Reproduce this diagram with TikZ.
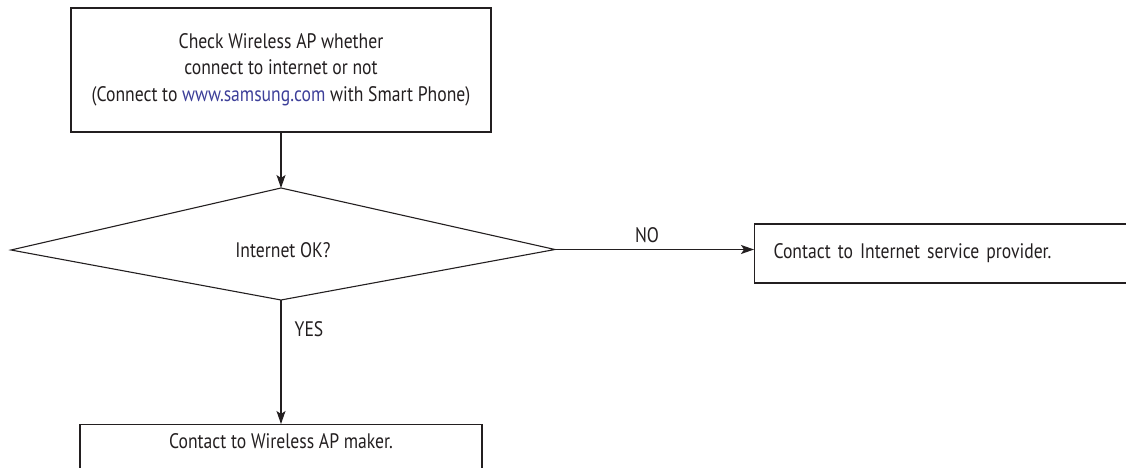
\documentclass[tikz,border=0pt]{standalone}
\usepackage{fontspec}
\setmainfont{PT Sans}[FakeStretch=0.84]
\usetikzlibrary{arrows.meta}
\definecolor{FlowLine}{HTML}{231F20}
\definecolor{FlowText}{HTML}{231F20}
\definecolor{FlowLink}{HTML}{3D3F99}

\begin{document}
\begin{tikzpicture}[x=1pt,y=-1pt,
    flowbox/.style={draw=FlowLine,line width=1.1pt,text=FlowText,font=\fontsize{21}{26}\selectfont},
    flowarrow/.style={draw=FlowLine,line width=1.1pt,-{Stealth[length=13pt,width=9pt,inset=3pt]}},
    flowlabel/.style={text=FlowText,font=\fontsize{21}{26}\selectfont}]
  \path[use as bounding box,clip] (0,0) rectangle (1126,468);
  \node[flowbox,align=center,minimum width=420pt,minimum height=124pt] (check) at (281,70)
    {Check Wireless AP whether\\connect to internet or not\\[1.5pt](Connect to \textcolor{FlowLink}{www.samsung.com} with Smart Phone)};
  % decision, drawn as a polygon (lower half is flatter)
  \coordinate (dtop) at (281,188);
  \coordinate (dleft) at (11,250);
  \coordinate (dright) at (555,249.5);
  \coordinate (dbot) at (281,300);
  \draw[FlowLine,line width=1.1pt] (dleft) -- (dtop) -- (dright) -- (dbot) -- cycle;
  \node[flowlabel] (ok) at (283,250) {Internet OK?};
  \node[flowbox,anchor=west,align=left,text width=380pt,inner xsep=19pt,minimum height=59pt] (isp) at (754,253.5)
    {Contact to Internet service provider.};
  \node[flowbox,anchor=north,align=center,minimum width=402pt,inner ysep=9pt,text height=15pt,text depth=40pt] (maker) at (281,424)
    {Contact to Wireless AP maker.};
  \draw[flowarrow] (check) -- (dtop);
  \draw[flowarrow] (dright) -- (dright -| isp.west);
  \draw[flowarrow] (dbot) -- (maker);
  \node[flowlabel] (no) at (647,235) {NO};
  \node[flowlabel] (yes) at (309,329) {YES};
\end{tikzpicture}
\end{document}
